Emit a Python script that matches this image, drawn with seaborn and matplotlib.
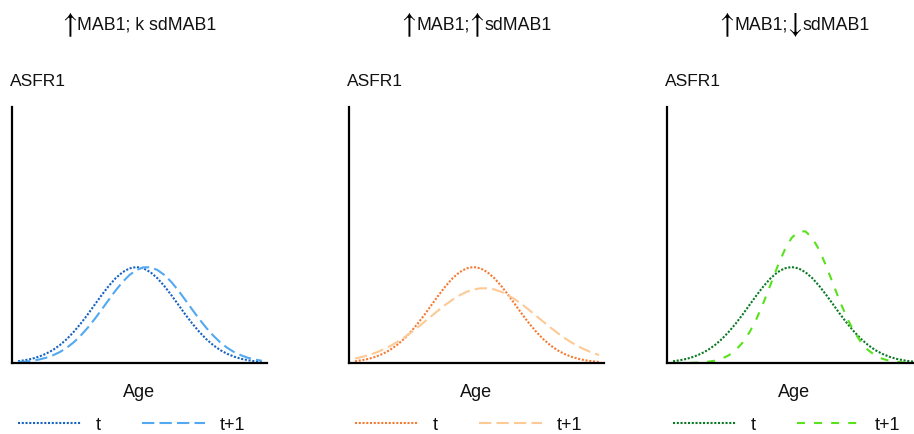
import matplotlib
matplotlib.use("Agg")
import matplotlib.pyplot as plt
import pandas as pd
import seaborn as sns
from matplotlib.offsetbox import TextArea, HPacker, AnchoredOffsetbox

# ---------------- data ----------------
ages = list(range(15, 51))

# ASFR at time t (same reference schedule in every panel)
asfr_t = [0.018, 0.029, 0.044, 0.066, 0.096, 0.135, 0.186, 0.249, 0.325, 0.411,
          0.506, 0.607, 0.707, 0.801, 0.883, 0.946, 0.986, 1.000, 0.986, 0.946,
          0.883, 0.801, 0.707, 0.607, 0.506, 0.411, 0.325, 0.249, 0.186, 0.135,
          0.096, 0.066, 0.044, 0.029, 0.018, 0.011]

# t+1 : MAB up, sd constant
asfr_t1_a = [0.009, 0.014, 0.023, 0.036, 0.054, 0.080, 0.114, 0.159, 0.216, 0.286,
             0.367, 0.458, 0.556, 0.657, 0.755, 0.844, 0.917, 0.969, 0.997, 0.997,
             0.969, 0.917, 0.844, 0.755, 0.657, 0.556, 0.458, 0.367, 0.286, 0.216,
             0.159, 0.114, 0.080, 0.054, 0.036, 0.023]

# t+1 : MAB up, sd up
asfr_t1_b = [0.047, 0.063, 0.083, 0.108, 0.139, 0.174, 0.216, 0.263, 0.315, 0.372,
             0.431, 0.491, 0.551, 0.608, 0.660, 0.705, 0.741, 0.766, 0.778, 0.778,
             0.766, 0.741, 0.705, 0.660, 0.608, 0.551, 0.491, 0.431, 0.372, 0.315,
             0.263, 0.216, 0.174, 0.139, 0.108, 0.083]

# t+1 : MAB up, sd down
asfr_t1_c = [0.000, 0.001, 0.001, 0.003, 0.006, 0.013, 0.024, 0.045, 0.080, 0.134,
             0.214, 0.323, 0.463, 0.632, 0.818, 1.006, 1.174, 1.302, 1.371, 1.371,
             1.302, 1.174, 1.006, 0.818, 0.632, 0.463, 0.323, 0.214, 0.134, 0.080,
             0.045, 0.024, 0.013, 0.006, 0.003, 0.001]

series_t1 = [asfr_t1_a, asfr_t1_b, asfr_t1_c]
panel_titles = [["\u2191", "MAB1; k sdMAB1"],
                ["\u2191", "MAB1;", "\u2191", "sdMAB1"],
                ["\u2191", "MAB1;", "\u2193", "sdMAB1"]]
series_labels = ["t", "t+1"]
y_label = "ASFR1"
x_label = "Age"

colors_t = ["#1763c2", "#f57b32", "#0b7a25"]
colors_t1 = ["#52a9f2", "#fdc995", "#57e21c"]
dash_t1 = [(0, (5.9, 2.5)), (0, (5.9, 2.5)), (0, (3.8, 4.4))]

# ---------------- figure ----------------
sns.set_style("white")
plt.rcParams["font.family"] = ["Liberation Sans", "DejaVu Sans"]

W, H = 914, 435
fig = plt.figure(figsize=(W / 100, H / 100), dpi=100)

ax_lefts = [12, 349, 667]
ax_w, ax_top, ax_bottom = 255, 108, 364

for i in range(3):
    ax = fig.add_axes([ax_lefts[i] / W, (H - ax_bottom) / H, ax_w / W,
                       (ax_bottom - ax_top) / H])
    df = pd.DataFrame({"age": ages, "t": asfr_t, "t1": series_t1[i]})
    sns.lineplot(data=df, x="age", y="t", ax=ax, color=colors_t[i],
                 linewidth=1.5, linestyle=(0, (1, 0.8)), label=series_labels[0])
    sns.lineplot(data=df, x="age", y="t1", ax=ax, color=colors_t1[i],
                 linewidth=1.5, linestyle=dash_t1[i], label=series_labels[1])

    ax.set_xlim(14.14, 50.72)
    ax.set_ylim(0, 2.667)
    ax.set_xticks([])
    ax.set_yticks([])
    for s in ["top", "right"]:
        ax.spines[s].set_visible(False)
    for s in ["left", "bottom"]:
        ax.spines[s].set_color("black")
        ax.spines[s].set_linewidth(1.6)

    ax.set_xlabel(x_label, fontsize=13, color="#111111")
    ax.xaxis.set_label_coords(0.5, -29 / 256)
    ax.xaxis.label.set_va("center")

    ax.set_ylabel(y_label, fontsize=12.5, rotation=0, color="#111111")
    ax.yaxis.set_label_coords(-2 / 255, 1 + 26 / 256)
    ax.yaxis.label.set_ha("left")
    ax.yaxis.label.set_va("center")

    leg = ax.legend(loc="center left", bbox_to_anchor=(6 / 255, -62 / 256),
                    ncol=2, frameon=False, fontsize=13, handlelength=3.5,
                    handletextpad=0.8, columnspacing=2.3, borderpad=0,
                    borderaxespad=0)
    for t in leg.get_texts():
        t.set_color("#111111")

    parts = []
    for p in panel_titles[i]:
        if p in ("\u2191", "\u2193"):
            parts.append(TextArea(p, textprops=dict(fontsize=21, color="black",
                                                    family=["STIXGeneral", "DejaVu Sans"])))
        else:
            parts.append(TextArea(p, textprops=dict(fontsize=12.8, color="#111111")))
    box = HPacker(children=parts, align="center", pad=0, sep=0)
    anc = AnchoredOffsetbox(loc="center", child=box, frameon=False, pad=0,
                            borderpad=0, bbox_to_anchor=(0.5, 1 + 83 / 256),
                            bbox_transform=ax.transAxes)
    ax.add_artist(anc)

fig.savefig("out.png", dpi=100)
